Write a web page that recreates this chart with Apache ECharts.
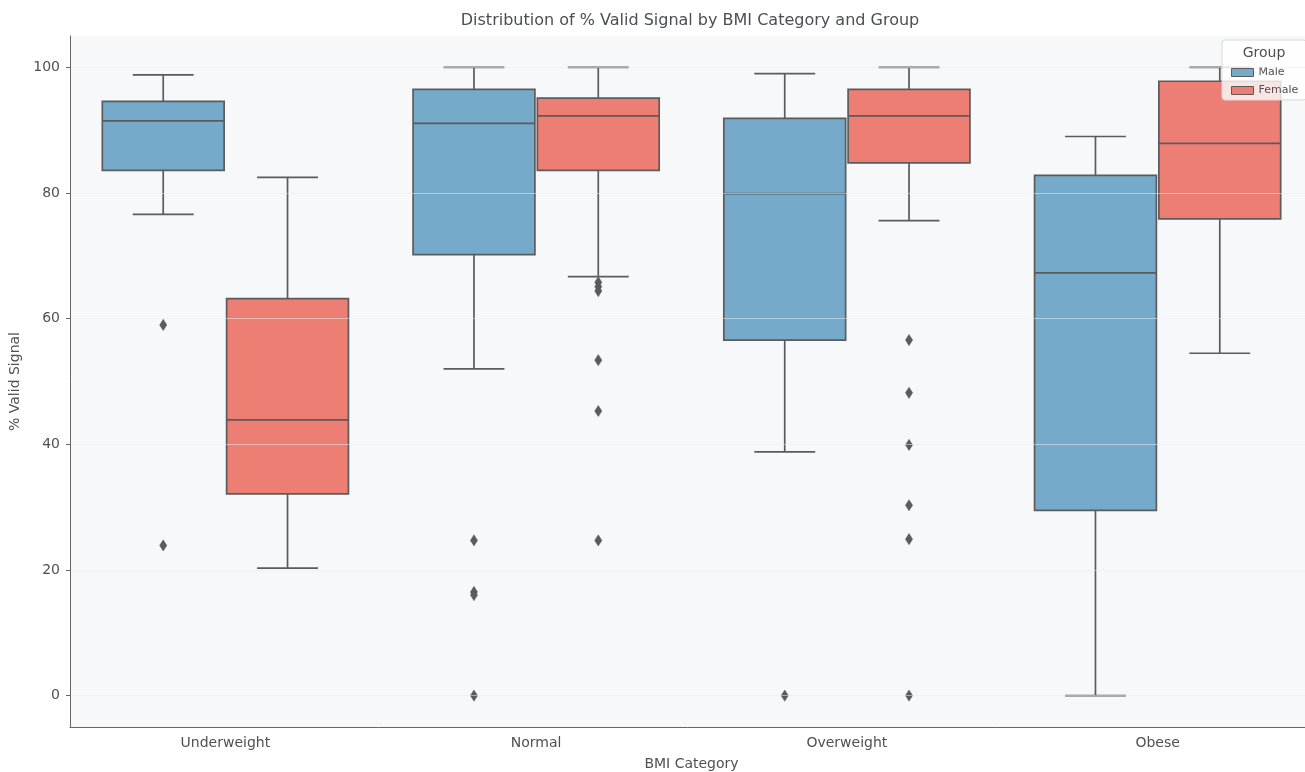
<!DOCTYPE html>
<html><head><meta charset="utf-8">
<script src="https://cdn.jsdelivr.net/npm/echarts@6/dist/echarts.min.js"></script>
<style>html,body{margin:0;padding:0;background:#fff;overflow:hidden}#c{width:1305px;height:772px}</style>
</head><body><div id="c"></div>
<script>
const categories = ['Underweight', 'Normal', 'Overweight', 'Obese'];
const groups = ['Male', 'Female'];
// each box: [lower whisker, Q1, median, Q3, upper whisker]
const maleBoxes = [
  [76.6, 83.6, 91.5, 94.6, 98.8],
  [52.0, 70.2, 91.1, 96.5, 100],
  [38.8, 56.6, 79.9, 91.9, 99.0],
  [0, 29.5, 67.3, 82.8, 89.0]
];
const femaleBoxes = [
  [20.3, 32.1, 43.9, 63.2, 82.5],
  [66.7, 83.6, 92.3, 95.1, 100],
  [75.6, 84.8, 92.3, 96.5, 100],
  [54.5, 75.9, 87.9, 97.8, 100]
];
// outliers: [category index, value]
const maleOutliers = [[0, 59.0], [0, 23.9], [1, 24.7], [1, 16.5], [1, 16.0], [1, 0], [2, 0]];
const femaleOutliers = [[1, 65.8], [1, 65.1], [1, 64.4], [1, 53.4], [1, 45.3], [1, 24.7],
  [2, 56.6], [2, 48.2], [2, 39.9], [2, 30.3], [2, 24.9], [2, 0]];
const yTicks = [0, 20, 40, 60, 80, 100];

const EDGE = '#5b5b5b';
const COLORS = ['#76aacb', '#ec7e74'];
const FONT = 'DejaVu Sans';
const TXT = '#505050';

function boxRender(offsetFrac) {
  return function (params, api) {
    const ci = api.value(0);
    const band = api.size([1, 0])[0];
    const cx = api.coord([ci, 0])[0] + offsetFrac * band;
    const w = band * 0.392, cw = w * 0.5;
    const y = i => api.coord([ci, api.value(i)])[1];
    const yMin = y(1), yQ1 = y(2), yMed = y(3), yQ3 = y(4), yMax = y(5);
    const ls = { stroke: EDGE, lineWidth: 1.7 };
    return { type: 'group', children: [
      { type: 'line', shape: { x1: cx, y1: yQ1, x2: cx, y2: yMin }, style: ls },
      { type: 'line', shape: { x1: cx, y1: yQ3, x2: cx, y2: yMax }, style: ls },
      { type: 'line', shape: { x1: cx - cw / 2, y1: yMin, x2: cx + cw / 2, y2: yMin }, style: ls },
      { type: 'line', shape: { x1: cx - cw / 2, y1: yMax, x2: cx + cw / 2, y2: yMax }, style: ls },
      { type: 'rect', shape: { x: cx - w / 2, y: yQ3, width: w, height: yQ1 - yQ3 },
        style: { fill: api.visual('color'), stroke: EDGE, lineWidth: 1.7 } },
      { type: 'line', shape: { x1: cx - w / 2, y1: yMed, x2: cx + w / 2, y2: yMed }, style: ls }
    ]};
  };
}
function outlierRender(offsetFrac) {
  return function (params, api) {
    const ci = api.value(0);
    const band = api.size([1, 0])[0];
    const p = api.coord([ci, api.value(1)]);
    const cx = p[0] + offsetFrac * band, cy = p[1];
    const hw = 3.6, hh = 5.6;
    return { type: 'polygon', shape: { points: [[cx, cy - hh], [cx + hw, cy], [cx, cy + hh], [cx - hw, cy]] },
      style: { fill: EDGE, stroke: EDGE, lineWidth: 0.5 } };
  };
}

const boxData = arr => arr.map((b, i) => [i].concat(b));

const chart = echarts.init(document.getElementById('c'), null, { renderer: 'canvas' });
chart.setOption({
  animation: false,
  backgroundColor: '#ffffff',
  textStyle: { fontFamily: FONT },
  grid: { left: 70, right: -8, top: 36, bottom: 45, show: true, backgroundColor: '#f7f8fa', borderWidth: 0,
    containLabel: false, outerBoundsMode: 'none' },
  graphic: [
    { type: 'text', x: 690, y: 21, z: 100,
      style: { text: 'Distribution of % Valid Signal by BMI Category and Group', textAlign: 'center', textVerticalAlign: 'middle',
        font: '16px "DejaVu Sans"', fill: '#4a4f55' } },
    { type: 'text', x: 1264, y: 53, z: 100,
      style: { text: 'Group', textAlign: 'center', textVerticalAlign: 'middle', font: '14px "DejaVu Sans"', fill: TXT } }
  ],
  legend: {
    data: [{ name: 'Male', icon: 'rect' }, { name: 'Female', icon: 'rect' }],
    orient: 'vertical', left: 1222, top: 40,
    padding: [27, 8, 4, 9], itemGap: 7, itemWidth: 22, itemHeight: 8,
    backgroundColor: 'rgba(255,255,255,0.8)', borderColor: '#d8d8d8', borderWidth: 1, borderRadius: 3,
    textStyle: { fontSize: 11, color: TXT, fontFamily: FONT },
    itemStyle: { borderColor: EDGE, borderWidth: 1 },
    selectedMode: false
  },
  xAxis: {
    type: 'category', data: categories, boundaryGap: true,
    name: 'BMI Category', nameLocation: 'middle', nameGap: 30,
    nameTextStyle: { fontSize: 14, color: TXT, fontFamily: FONT },
    axisLine: { onZero: false, lineStyle: { color: '#666', width: 1 } },
    axisTick: { alignWithLabel: true, length: 4, lineStyle: { color: '#666' } },
    axisLabel: { fontSize: 14, color: TXT, margin: 9, fontFamily: FONT },
    splitLine: { show: false }
  },
  yAxis: {
    type: 'value', min: -5, max: 105, z: 5,
    name: '% Valid Signal', nameLocation: 'middle', nameGap: 40,
    nameTextStyle: { fontSize: 14, color: TXT, fontFamily: FONT },
    axisLine: { show: true, lineStyle: { color: '#666', width: 1 } },
    axisTick: { show: true, length: 4, lineStyle: { color: '#666' }, customValues: yTicks },
    axisLabel: { fontSize: 14, color: TXT, margin: 10, fontFamily: FONT, customValues: yTicks },
    splitLine: { show: true, lineStyle: { color: 'rgba(234,235,238,0.55)', width: 1.2 } }
  },
  series: [
    { name: 'Male', type: 'custom', renderItem: boxRender(-0.2), data: boxData(maleBoxes),
      itemStyle: { color: COLORS[0], borderColor: EDGE }, encode: { x: 0, y: [1, 2, 3, 4, 5] }, z: 2 },
    { name: 'Female', type: 'custom', renderItem: boxRender(0.2), data: boxData(femaleBoxes),
      itemStyle: { color: COLORS[1], borderColor: EDGE }, encode: { x: 0, y: [1, 2, 3, 4, 5] }, z: 2 },
    { name: 'Male outliers', type: 'custom', renderItem: outlierRender(-0.2), data: maleOutliers,
      encode: { x: 0, y: 1 }, z: 3 },
    { name: 'Female outliers', type: 'custom', renderItem: outlierRender(0.2), data: femaleOutliers,
      encode: { x: 0, y: 1 }, z: 3 }
  ]
});
</script></body></html>
